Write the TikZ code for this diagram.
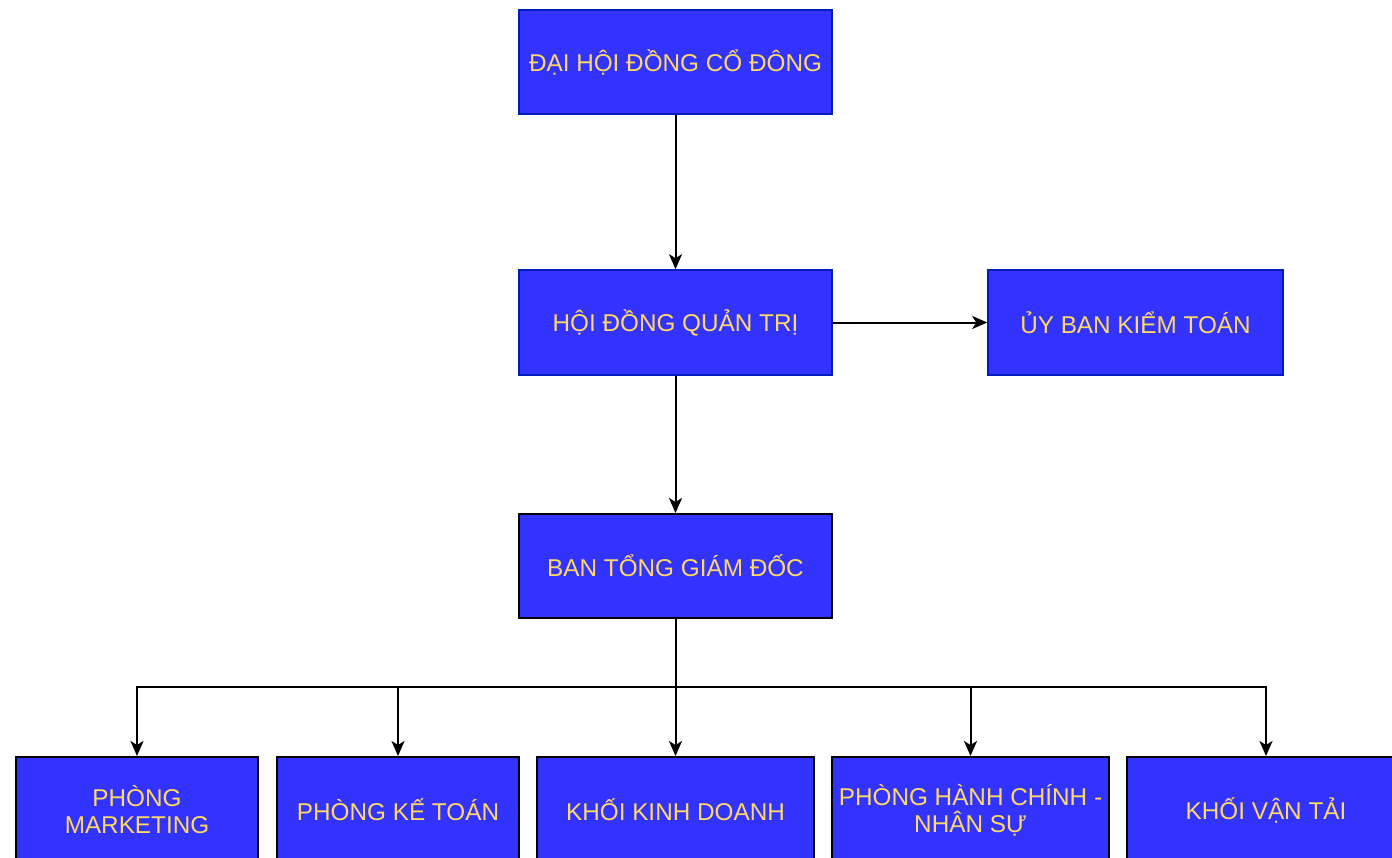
\documentclass[tikz,border=0pt]{standalone}
\usepackage{fontspec}
\setmainfont{Liberation Sans}
\usetikzlibrary{arrows.meta}
\definecolor{boxfill}{HTML}{3333FF}
\definecolor{boxtext}{HTML}{FFD966}
\definecolor{boxline}{HTML}{001DBC}
\tikzset{
  orgbox/.style={draw=black, line width=2pt, fill=boxfill, text=boxtext,
    font=\fontsize{24.3}{27}\selectfont, align=center, inner sep=0pt},
  topbox/.style={orgbox, draw=boxline, line width=1.6pt},
  arr/.style={draw=black, line width=2pt, -{Stealth[length=15pt,width=13pt,inset=4pt]}},
}
\begin{document}
\begin{tikzpicture}[x=1pt,y=-1pt]
\useasboundingbox (0,0) rectangle (1392,857);
\node[topbox, minimum width=313, minimum height=104] (dh) at (675.5,62) {ĐẠI HỘI ĐỒNG CỔ ĐÔNG};
\node[topbox, minimum width=313, minimum height=105] (hd) at (675.5,322.5) {HỘI ĐỒNG QUẢN TRỊ};
\node[topbox, minimum width=295, minimum height=105] (ub) at (1135.5,322.5) {ỦY BAN KIỂM TOÁN};
\node[orgbox, minimum width=313, minimum height=104] (bt) at (675.5,566) {BAN TỔNG GIÁM ĐỐC};
\node[orgbox, minimum width=242, minimum height=106] (b1) at (137,810) {PHÒNG\\MARKETING};
\node[orgbox, minimum width=242, minimum height=106] (b2) at (398,810) {PHÒNG KẾ TOÁN};
\node[orgbox, minimum width=277, minimum height=106] (b3) at (675.5,810) {KHỐI KINH DOANH};
\node[orgbox, minimum width=277, minimum height=106] (b4) at (970.5,810) {PHÒNG HÀNH CHÍNH -\\NHÂN SỰ};
\node[orgbox, minimum width=278, minimum height=106] (b5) at (1266,810) {KHỐI VẬN TẢI};
\coordinate (bus) at (675.5,687);
\draw[arr] (dh) -- (hd);
\draw[arr] (hd) -- (ub);
\draw[arr] (hd) -- (bt);
\draw[arr] (bt) -- (b3);
\draw[arr] (bt.south) -- (bus) -| (b1.north);
\draw[arr] (bt.south) -- (bus) -| (b2.north);
\draw[arr] (bt.south) -- (bus) -| (b4.north);
\draw[arr] (bt.south) -- (bus) -| (b5.north);
\end{tikzpicture}
\end{document}
